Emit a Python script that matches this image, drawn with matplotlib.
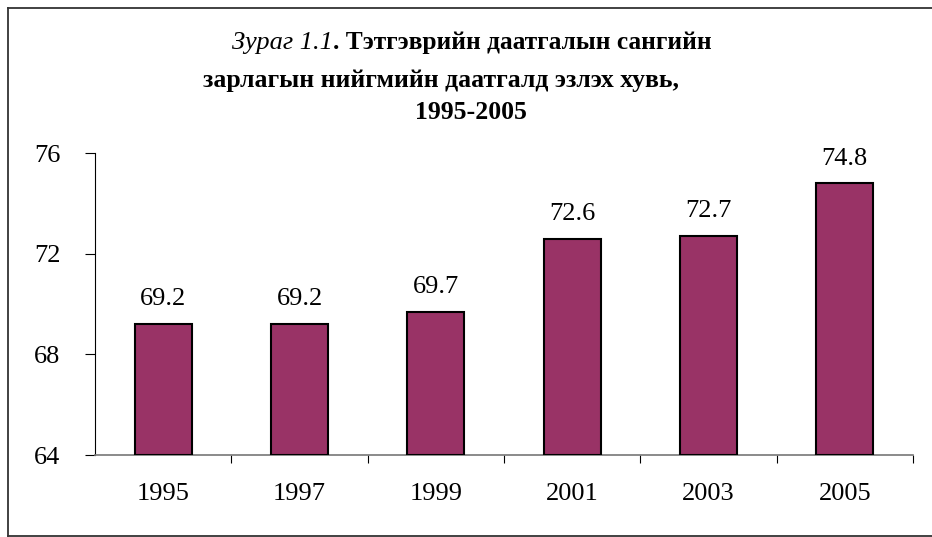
import matplotlib
matplotlib.use("Agg")
import matplotlib.pyplot as plt
from matplotlib.lines import Line2D

# data
years = ["1995", "1997", "1999", "2001", "2003", "2005"]
shares = [69.2, 69.2, 69.7, 72.6, 72.7, 74.8]
yticks = [64, 68, 72, 76]

plt.rcParams['font.family'] = ['Liberation Serif', 'DejaVu Serif']

W, H = 932, 537
fig = plt.figure(figsize=(W / 100, H / 100), dpi=100)


def fx(px):
    return px / W


def fy(py):
    return 1 - py / H


# outer frame: top, left and bottom edges only (right side is cut off)
frame = dict(transform=fig.transFigure, color='#333333', linewidth=1.3)
fig.add_artist(Line2D([fx(8), 1.0], [fy(8), fy(8)], **frame))
fig.add_artist(Line2D([fx(8), fx(8)], [fy(8), fy(536)], **frame))
fig.add_artist(Line2D([fx(8), 1.0], [fy(536), fy(536)], **frame))

ax = fig.add_axes([fx(95), fy(455), 818 / W, (455 - 153.3) / H])

x = range(len(years))
ax.bar(x, [v - 64 for v in shares], bottom=64, width=0.42,
       color='#993366', edgecolor='black', linewidth=1.5, zorder=3)

for i, v in enumerate(shares):
    ax.annotate(f"{v:.1f}", (i, v), xytext=(0, 10), textcoords='offset points',
                ha='center', va='bottom', fontsize=19)

ax.set_xlim(-0.5, len(years) - 0.5)
ax.set_ylim(64, 76)
ax.set_yticks(yticks)
ax.set_yticklabels([str(t) for t in yticks], fontsize=19)
ax.tick_params(axis='y', length=7, width=0.8, pad=18)

# x tick marks between categories, labels centered under bars
ax.set_xticks([i + 0.5 for i in x])
ax.set_xticklabels([])
ax.set_xticks(list(x), minor=True)
ax.set_xticklabels(years, minor=True, fontsize=19)
ax.tick_params(axis='x', which='major', direction='out', length=6, width=0.8)
ax.tick_params(axis='x', which='minor', length=0, pad=20)

for s in ['top', 'right']:
    ax.spines[s].set_visible(False)
ax.spines['left'].set_linewidth(0.8)
ax.spines['bottom'].set_color('#777777')
ax.spines['bottom'].set_linewidth(1.2)

# title, built from pieces (italic label + bold text)
fig.text(fx(333), fy(43), "Зураг 1.1", ha='right', va='center',
         fontsize=19, style='italic')
fig.text(fx(333), fy(43), ". Тэтгэврийн даатгалын сангийн", ha='left',
         va='center', fontsize=18.3, fontweight='bold')
fig.text(fx(203), fy(80), "зарлагын нийгмийн даатгалд эзлэх хувь,", ha='left',
         va='center', fontsize=18.5, fontweight='bold')
fig.text(fx(415), fy(113), "1995-2005", ha='left', va='center',
         fontsize=18.5, fontweight='bold')

fig.savefig("out.png", dpi=100)
